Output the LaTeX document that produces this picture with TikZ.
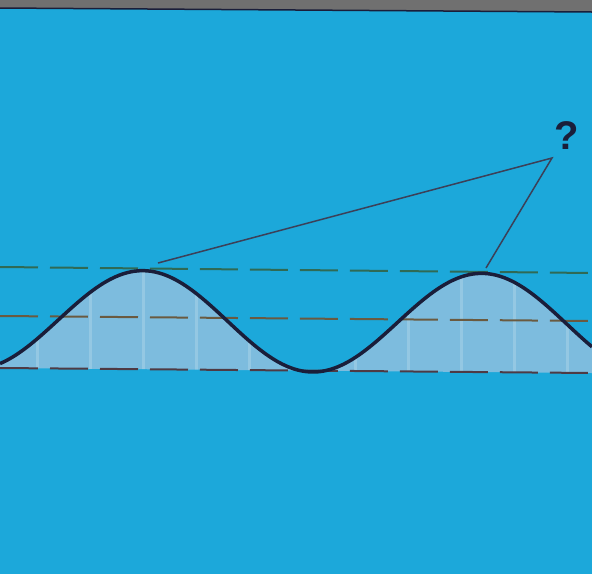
\documentclass[tikz,border=0pt]{standalone}
\usepackage{fontspec}
\setmainfont{Liberation Sans}
\definecolor{bgc}{HTML}{1CA8DA}
\definecolor{fillc}{HTML}{7DBCDE}
\definecolor{curvec}{HTML}{1A1E3A}
\definecolor{greend}{HTML}{2F6A55}
\definecolor{midd}{HTML}{6A5A40}
\definecolor{based}{HTML}{4E3A44}
\definecolor{stripc}{HTML}{707070}
\tikzset{
  dashline/.style={line width=2pt, dash pattern=on 38pt off 12pt},
  pointer/.style={draw=curvec!85, line width=1.5pt},
}
\begin{document}
\begin{tikzpicture}[x=1pt,y=-1pt]
\useasboundingbox (0,0) rectangle (592,574);
\fill[bgc] (0,0) rectangle (592,574);
% top strip
\fill[stripc] (0,0) -- (592,0) -- (592,12) -- (0,8) -- cycle;
\draw[curvec, line width=1.5pt] (0,8) -- (592,12);
% filled wave
\fill[fillc] (0,358) -- plot[domain=0:592, samples=150, smooth] (\x,{319.5-50*cos(deg((\x-143)*pi/169.5)) + 0.008*\x}) -- (592,373) -- (0,368) -- cycle;
\begin{scope}
\clip (0,358) -- plot[domain=0:592, samples=150, smooth] (\x,{319.5-50*cos(deg((\x-143)*pi/169.5)) + 0.008*\x}) -- (592,373) -- (0,368) -- cycle;
\foreach \gx in {37,90,143,196,249,302,355,408,461,514,567}
  \draw[white, opacity=0.18, line width=3pt] (\gx,250) -- (\gx,380);
\end{scope}
% dashed lines
\draw[dashline, greend] (0,267) -- (592,273);
\draw[dashline, midd] (0,316) -- (592,321);
\draw[dashline, based] (0,368) -- (592,373);
% curve
\draw[curvec, line width=3.5pt] plot[domain=0:592, samples=150, smooth] (\x,{319.5-50*cos(deg((\x-143)*pi/169.5)) + 0.008*\x});
% pointer lines
\coordinate (p1) at (158,263);
\coordinate (p2) at (486,268);
\node[font=\bfseries\fontsize{40}{42}\selectfont, text=curvec, inner sep=0pt] (q) at (567,136) {?};
\coordinate (apex) at (552,158);
\draw[pointer] (p1) -- (apex) -- (p2);
\end{tikzpicture}
\end{document}
